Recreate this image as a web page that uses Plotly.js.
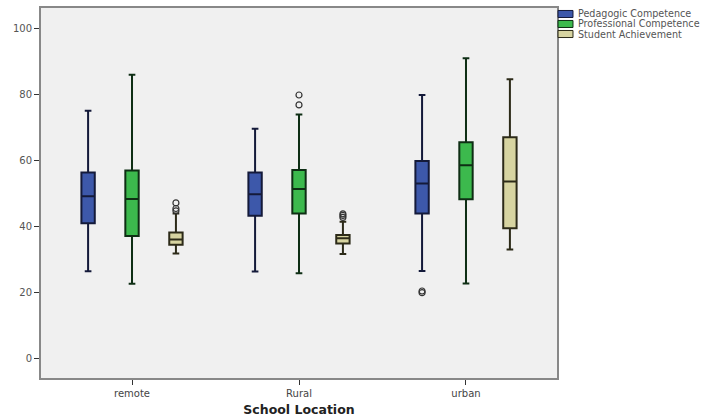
<!DOCTYPE html>
<html>
<head>
<meta charset="utf-8">
<script src="https://cdn.plot.ly/plotly-3.0.1.min.js"></script>
<style>html,body{margin:0;padding:0;background:#fff;}#chart{width:720px;height:417px;}</style>
</head>
<body>
<div id="chart"></div>
<script>
// ---- data ----
var categories = ["remote", "Rural", "urban"];
var seriesNames = ["Pedagogic Competence", "Professional Competence", "Student Achievement"];

var pedLow    = [26.3, 26.2, 26.4];
var pedQ1     = [40.8, 43.1, 43.8];
var pedMedian = [49.0, 49.6, 52.9];
var pedQ3     = [56.2, 56.2, 59.7];
var pedHigh   = [74.9, 69.5, 79.7];
var pedOutX   = [2, 2];
var pedOutY   = [19.8, 20.3];

var proLow    = [22.5, 25.7, 22.6];
var proQ1     = [37.0, 43.8, 48.1];
var proMedian = [48.2, 51.2, 58.4];
var proQ3     = [56.8, 57.0, 65.4];
var proHigh   = [85.8, 73.8, 90.8];
var proOutX   = [1, 1];
var proOutY   = [76.7, 79.7];

var stuLow    = [31.7, 31.5, 32.9];
var stuQ1     = [34.3, 34.7, 39.3];
var stuMedian = [35.9, 36.3, 53.5];
var stuQ3     = [38.0, 37.3, 66.9];
var stuHigh   = [43.8, 41.3, 84.5];
var stuOutX   = [0, 0, 0, 1, 1, 1];
var stuOutY   = [44.6, 45.3, 47.0, 42.6, 43.2, 43.7];

var yTicks = [0, 20, 40, 60, 80, 100];

// ---- styling ----
var fills = ["#3d58aa", "#3cb94d", "#d7d4a1"];
var edges = ["#141a3a", "#0e2e14", "#2c2a18"];
var offsets = [-0.263, 0, 0.263];
var boxW = 0.08;

var stats = [
  {low: pedLow, q1: pedQ1, med: pedMedian, q3: pedQ3, high: pedHigh, ox: pedOutX, oy: pedOutY},
  {low: proLow, q1: proQ1, med: proMedian, q3: proQ3, high: proHigh, ox: proOutX, oy: proOutY},
  {low: stuLow, q1: stuQ1, med: stuMedian, q3: stuQ3, high: stuHigh, ox: stuOutX, oy: stuOutY}
];

var traces = [];
stats.forEach(function (s, k) {
  traces.push({
    type: "box",
    name: seriesNames[k],
    x: categories.map(function (c, i) { return i + offsets[k]; }),
    q1: s.q1, median: s.med, q3: s.q3,
    lowerfence: s.low, upperfence: s.high,
    width: boxW,
    whiskerwidth: 0.5,
    fillcolor: fills[k],
    line: {color: edges[k], width: 2},
    boxpoints: false,
    showlegend: false,
    hoverinfo: "skip"
  });
  traces.push({
    type: "scatter",
    mode: "markers",
    x: s.ox.map(function (i) { return i + offsets[k]; }),
    y: s.oy,
    marker: {symbol: "circle-open", size: 6, color: "#333", line: {width: 1.2, color: "#333"}},
    showlegend: false,
    hoverinfo: "skip"
  });
});

// custom compact legend
var shapes = [], annotations = [];
var legY = [0.9838, 0.9568, 0.9297];
seriesNames.forEach(function (n, k) {
  shapes.push({type: "rect", xref: "paper", yref: "paper",
    x0: 1.002, x1: 1.031, y0: legY[k] - 0.0095, y1: legY[k] + 0.0095,
    fillcolor: fills[k], line: {color: edges[k], width: 1}});
  annotations.push({xref: "paper", yref: "paper", x: 1.036, y: legY[k],
    xanchor: "left", yanchor: "middle", text: n, showarrow: false,
    font: {family: "DejaVu Sans", size: 9.6, color: "#555"}});
});

var layout = {
  width: 720, height: 417,
  margin: {l: 41, r: 163, t: 8, b: 39},
  paper_bgcolor: "#ffffff",
  plot_bgcolor: "#f0f0f0",
  showlegend: false,
  xaxis: {
    range: [-0.545, 2.545],
    tickvals: categories.map(function (c, i) { return i; }),
    ticktext: categories,
    ticks: "outside", ticklen: 5, tickcolor: "#333", tickwidth: 1,
    showline: true, linecolor: "#888", linewidth: 2, mirror: true,
    showgrid: false, zeroline: false,
    tickfont: {family: "DejaVu Sans", size: 10, color: "#444"},
    title: {text: "School Location", standoff: 7,
      font: {family: "DejaVu Sans", size: 12.5, color: "#222", weight: "bold"}}
  },
  yaxis: {
    range: [-6.06, 106.06],
    tickvals: yTicks,
    ticks: "outside", ticklen: 5, tickcolor: "#333", tickwidth: 1,
    showline: true, linecolor: "#888", linewidth: 2, mirror: true,
    showgrid: false, zeroline: false,
    tickfont: {family: "DejaVu Sans", size: 10, color: "#555"}
  },
  shapes: shapes,
  annotations: annotations
};

Plotly.newPlot("chart", traces, layout, {displayModeBar: false, staticPlot: true});
</script>
</body>
</html>
